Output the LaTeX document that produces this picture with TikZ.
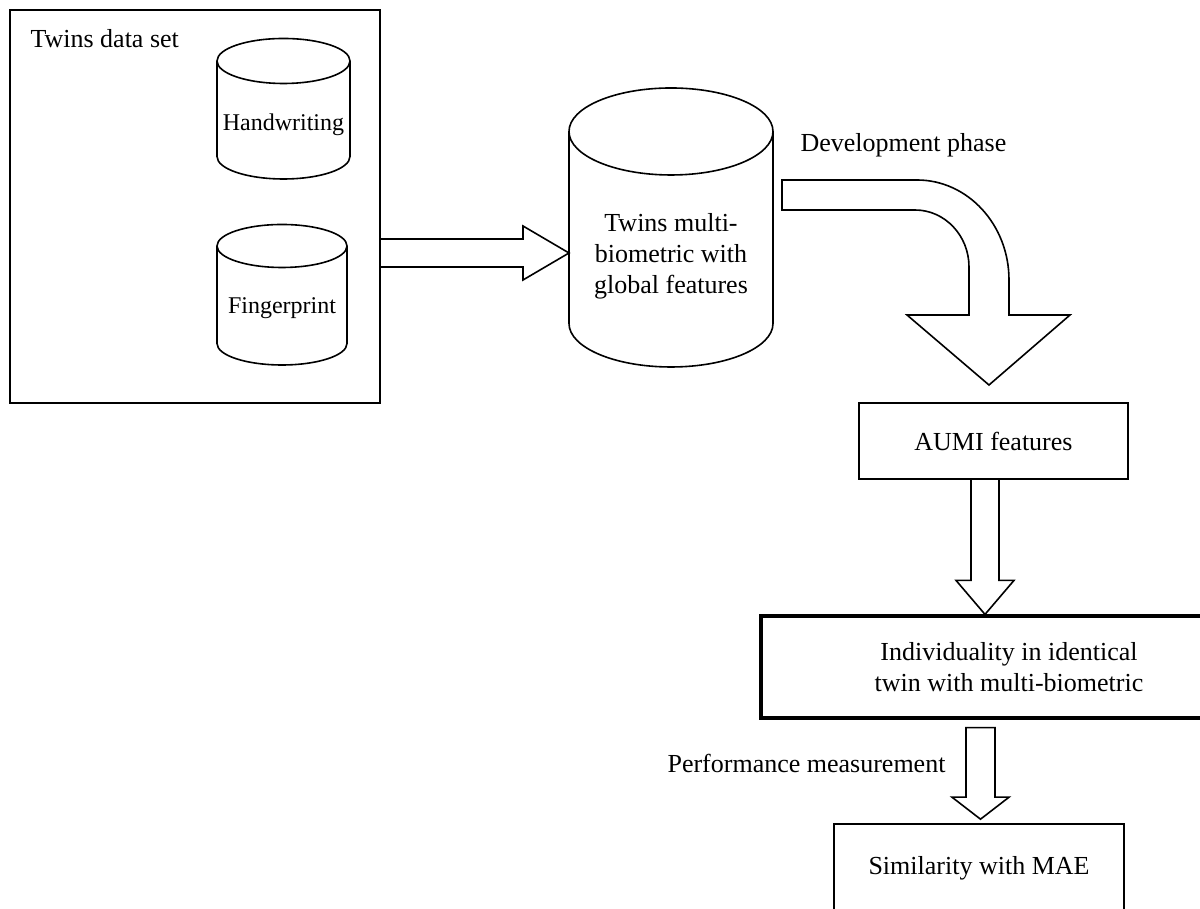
\documentclass[tikz,border=0pt]{standalone}
\usepackage{fontspec}
\setmainfont{Liberation Serif}
\usetikzlibrary{calc}

\newcommand{\bigtext}{\fontsize{26}{31}\selectfont}
\newcommand{\dbtext}{\fontsize{24}{29}\selectfont}

% cylinder drawn round a node: #1 node name, #2 ellipse y radius (pt), #3 lid above node top (pt)
\newcommand{\dbcyl}[3]{%
  \draw[outline] let \p1=(#1.north west), \p2=(#1.south east), \n1={(\x2-\x1)/2} in
    ({(\x1+\x2)/2},\y1+#3pt) ellipse [x radius=\n1, y radius=#2pt]
    (\x1,\y1+#3pt) -- (\x1,\y2+#2pt) arc [start angle=180, end angle=360, x radius=\n1, y radius=#2pt] -- (\x2,\y1+#3pt);
}

\begin{document}
\begin{tikzpicture}[
    x=1pt, y=1pt,
    outline/.style={line width=1.6pt},
    box/.style={draw, line width=1.6pt, align=center, font=\bigtext},
    dbnode/.style={inner sep=0pt, outer sep=0pt, align=center},
    blockline/.style={draw, line width=1.6pt, line join=miter}
]
    \useasboundingbox (0,0) rectangle (1200,909);

    % Data set
    \node[box, minimum width=370pt, minimum height=393pt] (dataset) at (195,702.5) {};
    \node[anchor=west, font=\bigtext] (dslabel) at (27,870) {Twins data set};

    % Databases
    \node[dbnode, font=\dbtext, minimum width=133pt, minimum height=108pt] (hand) at (283.5,784) {Handwriting};
    \node[dbnode, font=\dbtext, minimum width=130pt, minimum height=114pt] (finger) at (282,601) {Fingerprint};
    \node[dbnode, font=\bigtext, minimum width=204pt, minimum height=222pt] (twinsdb) at (671,653) {Twins multi-\\biometric with\\global features};
    \dbcyl{hand}{22.5}{10}
    \dbcyl{finger}{21.5}{5}
    \dbcyl{twinsdb}{43.5}{13.5}

    % Flow boxes
    \node[box, minimum width=269pt, minimum height=76pt] (aumi) at (993.5,468) {AUMI features};
    \node[box, line width=3.2pt, minimum width=496pt, minimum height=102pt] (indiv) at (1009,242) {Individuality in identical\\twin with multi-biometric};
    \node[box, minimum width=290pt, minimum height=88pt] (simil) at (979,41) {Similarity with MAE};

    % Labels
    \node[anchor=west, font=\bigtext] (devlabel) at (797,764) {Development phase};
    \node[anchor=east, font=\bigtext] (perflabel) at (949,146) {Performance measurement};

    % Block arrows
    \coordinate (a1) at (0,656);
    \draw[blockline] ($(dataset.east |- a1)+(0,14)$) -- ($(twinsdb.west |- a1)+(-46,14)$) -- ++(0,13)
        -- (twinsdb.west |- a1) -- ++(-46,-27) -- ++(0,13) -- ($(dataset.east |- a1)+(0,-14)$);

    \coordinate (devstart) at (782,714);
    \coordinate (devtip) at (989,524);
    \draw[blockline] (devstart) ++(0,15) -- ++(135,0)
        arc [start angle=90, end angle=0, x radius=92, y radius=100]
        -- ++(0,-35) -- ++(61,0) -- (devtip) -- ++(-82,70) -- ++(62,0) -- ++(0,48)
        arc [start angle=0, end angle=90, x radius=54, y radius=57]
        -- ++(-133,0) -- cycle;

    \coordinate (a2) at (985,0);
    \draw[blockline] ($(aumi.south -| a2)+(-14,0)$) -- ($(indiv.north -| a2)+(-14,34)$) -- ++(-15,0)
        -- (indiv.north -| a2) -- ++(29,34) -- ++(-15,0) -- ($(aumi.south -| a2)+(14,0)$);

    \coordinate (a3) at (980.5,0);
    \draw[blockline] ($(indiv.south -| a3)+(-14.5,-8)$) -- ($(simil.north -| a3)+(-14.5,26)$) -- ++(-14,0)
        -- ($(simil.north -| a3)+(0,4)$) -- ++(28.5,22) -- ++(-14,0) -- ($(indiv.south -| a3)+(14.5,-8)$) -- cycle;
\end{tikzpicture}
\end{document}
